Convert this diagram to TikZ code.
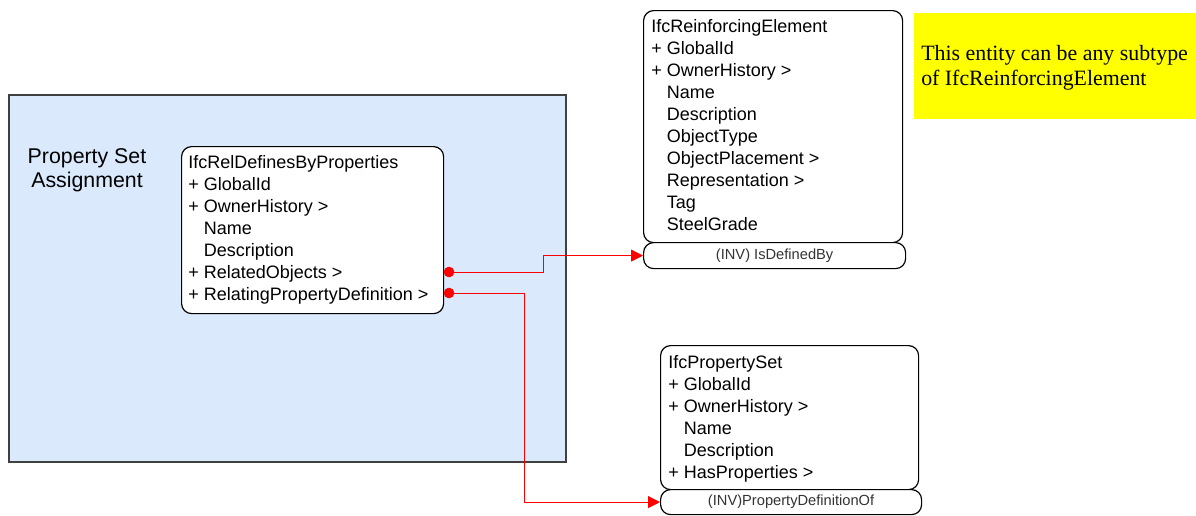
\documentclass[tikz,border=0pt]{standalone}
\usepackage{fontspec}
\setmainfont{Liberation Serif}
\newfontfamily\arial{Liberation Sans}
\usetikzlibrary{arrows.meta}
\definecolor{setblue}{RGB}{218,233,252}
\definecolor{framegray}{RGB}{64,64,64}
\definecolor{invgray}{RGB}{51,51,51}
\definecolor{noteyellow}{RGB}{255,255,0}

\begin{document}
\begin{tikzpicture}[x=0.75pt,y=-0.75pt,
    entity/.style={draw=black, line width=0.9pt, rounded corners=7.5pt, fill=white,
                   anchor=north west, inner sep=0pt},
    inv/.style={entity, font=\arial\fontsize{11}{13}\selectfont, text=invgray},
    attr/.style={anchor=base west, inner sep=0pt, font=\arial\fontsize{13.5}{16}\selectfont},
    link/.style={red, line width=0.75pt},
    note/.style={fill=noteyellow, anchor=north west, inner sep=0pt}]
    \useasboundingbox (0,0) rectangle (1196,515);

    % 背景区域
    \filldraw[fill=setblue, draw=framegray, line width=0.9pt] (9,95) rectangle (566,462);
    \node[anchor=base, font=\arial\fontsize{16}{18}\selectfont] (title-1) at (87,163) {Property Set};
    \node[anchor=base, font=\arial\fontsize{16}{18}\selectfont] (title-2) at (87,187) {Assignment};

    % 实体框
    \node[entity, minimum width=196.5pt, minimum height=125.25pt] (rel) at (181,146) {};
    \node[entity, minimum width=194.25pt, minimum height=174pt] (reinf) at (643,10) {};
    \node[inv, minimum width=196.5pt, minimum height=19.5pt] (isdefby) at (643,242) {(INV) IsDefinedBy};
    \node[entity, minimum width=193.5pt, minimum height=108pt] (pset) at (660,345) {};
    \node[inv, minimum width=195.75pt, minimum height=18.75pt] (pdefof) at (660,489) {(INV)PropertyDefinitionOf};

    % 属性
    \foreach \t [count=\i from 0] in {IfcRelDefinesByProperties, + GlobalId, + OwnerHistory >,
        \phantom{+\ }Name, \phantom{+\ }Description, + RelatedObjects >, + RelatingPropertyDefinition >}
        \node[attr] (rel-\i) at (188,{168+22*\i}) {\t};
    \foreach \t [count=\i from 0] in {IfcReinforcingElement, + GlobalId, + OwnerHistory >,
        \phantom{+\ }Name, \phantom{+\ }Description, \phantom{+\ }ObjectType,
        \phantom{+\ }ObjectPlacement >, \phantom{+\ }Representation >, \phantom{+\ }Tag,
        \phantom{+\ }SteelGrade}
        \node[attr] (reinf-\i) at (651,{32+22*\i}) {\t};
    \foreach \t [count=\i from 0] in {IfcPropertySet, + GlobalId, + OwnerHistory >,
        \phantom{+\ }Name, \phantom{+\ }Description, + HasProperties >}
        \node[attr] (pset-\i) at (668,{368+22*\i}) {\t};

    % 说明
    \node[note, minimum width=211.5pt, minimum height=79.5pt] (note) at (914,13) {};
    \node[anchor=base west, inner sep=0pt, font=\fontsize{16.4}{18}\selectfont] (note-1) at (921,60)
        {This entity can be any subtype};
    \node[anchor=base west, inner sep=0pt, font=\fontsize{16.4}{18}\selectfont] (note-2) at (921,85)
        {of IfcReinforcingElement};

    % 连线
    \coordinate (objs) at (449,272);
    \coordinate (propdef) at (449,293);
    \draw[link, -{Triangle[length=9pt, width=9pt]}] (objs) -- ++(94,0) |- (isdefby.west);
    \draw[link, -{Triangle[length=9pt, width=9pt]}] (propdef) -- ++(75,0) |- (pdefof.west);
    \filldraw[red] (objs) circle (3.75pt);
    \filldraw[red] (propdef) circle (3.75pt);
\end{tikzpicture}
\end{document}
